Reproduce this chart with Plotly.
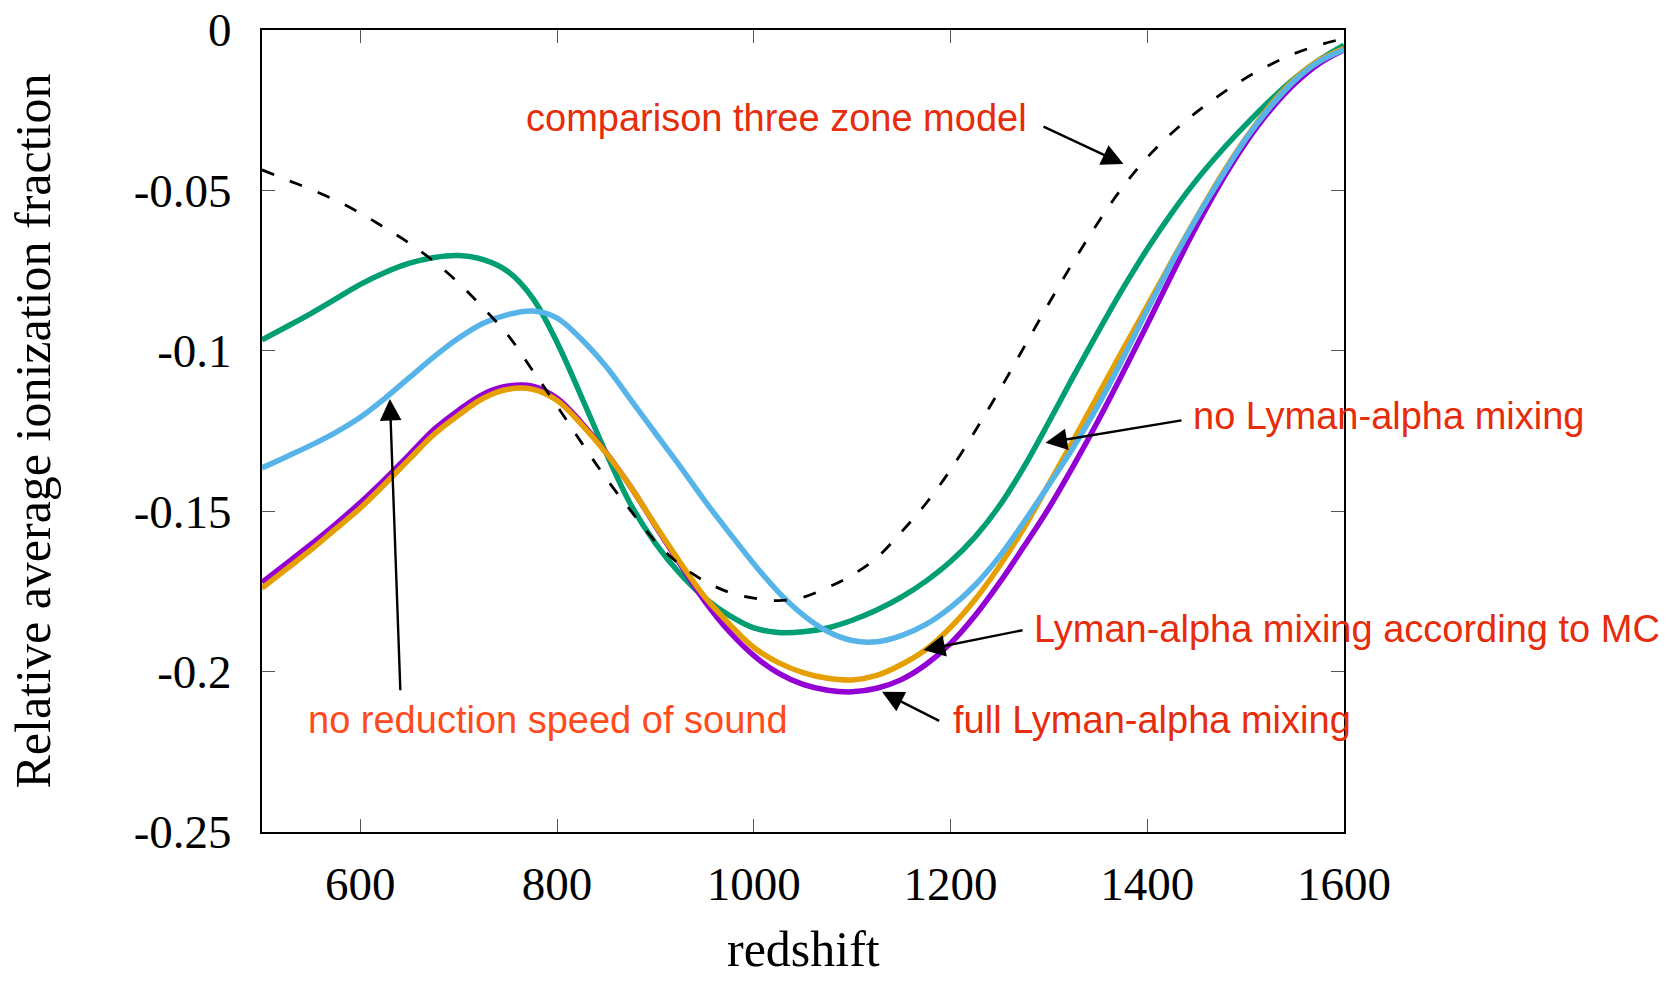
import plotly.graph_objects as go

# redshift grid shared by all curves
redshift = [500, 525, 550, 575, 600, 625, 650, 675, 700, 725, 750, 775, 800, 825, 850,
            875, 900, 925, 950, 975, 1000, 1025, 1050, 1075, 1100, 1125, 1150, 1175,
            1200, 1225, 1250, 1275, 1300, 1325, 1350, 1375, 1400, 1425, 1450, 1475,
            1500, 1525, 1550, 1575, 1600]

# relative average ionization fraction for each model
no_lya_mixing = [-0.0966, -0.0925, -0.0883, -0.0838, -0.0793, -0.0756, -0.0727, -0.0709,
                 -0.0703, -0.0716, -0.0753, -0.0835, -0.0974, -0.1145, -0.1320, -0.1480,
                 -0.1600, -0.1695, -0.1770, -0.1825, -0.1864, -0.1878, -0.1876, -0.1864,
                 -0.1840, -0.1808, -0.1768, -0.1718, -0.1657, -0.1580, -0.1482, -0.1360,
                 -0.1222, -0.1079, -0.0941, -0.0807, -0.0683, -0.0570, -0.0468, -0.0378,
                 -0.0296, -0.0219, -0.0150, -0.0093, -0.0047]

full_lya_mixing = [-0.1722, -0.1663, -0.1603, -0.1540, -0.1473, -0.1400, -0.1323, -0.1245,
                   -0.1185, -0.1135, -0.1110, -0.1110, -0.1148, -0.1225, -0.1318, -0.1425,
                   -0.1546, -0.1665, -0.1780, -0.1875, -0.1950, -0.2005, -0.2040, -0.2058,
                   -0.2063, -0.2052, -0.2025, -0.1978, -0.1912, -0.1825, -0.1722, -0.1608,
                   -0.1490, -0.1358, -0.1218, -0.1070, -0.0918, -0.0762, -0.0612, -0.0474,
                   -0.0352, -0.0250, -0.0167, -0.0104, -0.0062]

mc_lya_mixing = [-0.1740, -0.1680, -0.1620, -0.1555, -0.1490, -0.1415, -0.1337, -0.1260,
                 -0.1200, -0.1148, -0.1120, -0.1120, -0.1155, -0.1230, -0.1319, -0.1425,
                 -0.1544, -0.1659, -0.1767, -0.1851, -0.1925, -0.1972, -0.2003, -0.2021,
                 -0.2026, -0.2012, -0.1978, -0.1931, -0.1862, -0.1775, -0.1670, -0.1550,
                 -0.1415, -0.1278, -0.1138, -0.0998, -0.0860, -0.0720, -0.0585, -0.0455,
                 -0.0338, -0.0235, -0.0152, -0.0094, -0.0058]

no_sound_speed_reduction = [-0.1365, -0.1330, -0.1294, -0.1254, -0.1207, -0.1148, -0.1083,
                            -0.1018, -0.0960, -0.0914, -0.0887, -0.0876, -0.0898, -0.0965,
                            -0.1050, -0.1153, -0.1257, -0.1360, -0.1467, -0.1567, -0.1664,
                            -0.1752, -0.1823, -0.1875, -0.1903, -0.1907, -0.1888, -0.1853,
                            -0.1800, -0.1730, -0.1640, -0.1532, -0.1418, -0.1300, -0.1170,
                            -0.1025, -0.0873, -0.0725, -0.0587, -0.0460, -0.0340, -0.0240,
                            -0.0157, -0.0098, -0.0062]

three_zone_model = [-0.0436, -0.0467, -0.0497, -0.0531, -0.0571, -0.0617, -0.0665, -0.0722,
                    -0.0789, -0.0867, -0.0951, -0.1061, -0.1172, -0.1287, -0.1398, -0.1499,
                    -0.1595, -0.1667, -0.1718, -0.1753, -0.1771, -0.1779, -0.1768, -0.1738,
                    -0.1699, -0.1645, -0.1565, -0.1476, -0.1371, -0.1250, -0.1122, -0.0987,
                    -0.0852, -0.0722, -0.0600, -0.0490, -0.0397, -0.0321, -0.0256, -0.0200,
                    -0.0150, -0.0108, -0.0073, -0.0047, -0.0026]

x_ticks = [600, 800, 1000, 1200, 1400, 1600]
x_tick_labels = ["600", "800", "1000", "1200", "1400", "1600"]
y_ticks = [0, -0.05, -0.1, -0.15, -0.2, -0.25]
y_tick_labels = ["0", "-0.05", "-0.1", "-0.15", "-0.2", "-0.25"]

SERIF = "Liberation Serif, Times New Roman, serif"
SANS = "Liberation Sans, Arial, Helvetica, sans-serif"
LABEL_RED = "#e62c0a"
LABEL_ORANGE = "#ff4a1c"

fig = go.Figure()

curves = [
    (no_lya_mixing, "#009e73", "no Lyman-alpha mixing"),
    (full_lya_mixing, "#9400d3", "full Lyman-alpha mixing"),
    (mc_lya_mixing, "#e69f00", "Lyman-alpha mixing according to MC"),
    (no_sound_speed_reduction, "#56b4e9", "no reduction speed of sound"),
]
for values, color, name in curves:
    fig.add_trace(go.Scatter(
        x=redshift, y=values, mode="lines", name=name,
        line=dict(color=color, width=5.5, shape="spline", smoothing=1.0),
    ))

fig.add_trace(go.Scatter(
    x=redshift, y=three_zone_model, mode="lines", name="comparison three zone model",
    line=dict(color="black", width=2.8, dash="13px,17px", shape="spline", smoothing=1.0),
))

# label text: (text, x, y, colour)
labels = [
    ("comparison three zone model", 766, -0.0275, LABEL_RED),
    ("no Lyman-alpha mixing", 1444.5, -0.1203, LABEL_RED),
    ("Lyman-alpha mixing according to MC", 1282.3, -0.1867, LABEL_RED),
    ("full Lyman-alpha mixing", 1200.5, -0.2151, LABEL_RED),
    ("no reduction speed of sound", 545.2, -0.2151, LABEL_ORANGE),
]
for text, x, y, color in labels:
    fig.add_annotation(x=x, y=y, text=text, showarrow=False, xanchor="left",
                       yanchor="middle", font=dict(family=SANS, size=38, color=color))

# arrows: (tip x, tip y, tail x, tail y)
arrows = [
    (1375.8, -0.0418, 1293.0, -0.0299),
    (1296.5, -0.1287, 1436.3, -0.1216),
    (1172.5, -0.1933, 1274.7, -0.1870),
    (1130.3, -0.2063, 1190.0, -0.2156),
    (630.0, -0.1150, 640.7, -0.2063),
]
for x, y, ax, ay in arrows:
    fig.add_annotation(x=x, y=y, ax=ax, ay=ay, xref="x", yref="y", axref="x", ayref="y",
                       text="", showarrow=True, arrowhead=2, arrowsize=1.8,
                       arrowwidth=2.4, arrowcolor="black")

# x-axis title placed close to the bottom edge of the page
fig.add_annotation(x=0.5, y=-0.1835, xref="paper", yref="paper", text="redshift",
                   showarrow=False, xanchor="center", yanchor="bottom",
                   font=dict(family=SERIF, size=50, color="black"))

axis_common = dict(
    showline=True, linecolor="black", linewidth=2, mirror="ticks",
    ticks="inside", ticklen=13, tickwidth=1.2, tickcolor="#555555",
    showgrid=False, zeroline=False, automargin=False,
    tickfont=dict(family=SERIF, size=47, color="black"),
)

fig.update_xaxes(
    range=[500, 1600], tickvals=x_ticks, ticktext=x_tick_labels,
    ticklabelstandoff=10,
    **axis_common,
)
fig.update_yaxes(
    range=[-0.25, 0], tickvals=y_ticks, ticktext=y_tick_labels,
    title=dict(text="Relative average ionization fraction",
               font=dict(family=SERIF, size=50, color="black"), standoff=67),
    ticklabelstandoff=19,
    **axis_common,
)

fig.update_layout(
    width=1673, height=981, autosize=False,
    margin=dict(l=262, r=329, t=30, b=149),
    paper_bgcolor="white", plot_bgcolor="white",
    showlegend=False,
)

fig.write_html("out.html")
